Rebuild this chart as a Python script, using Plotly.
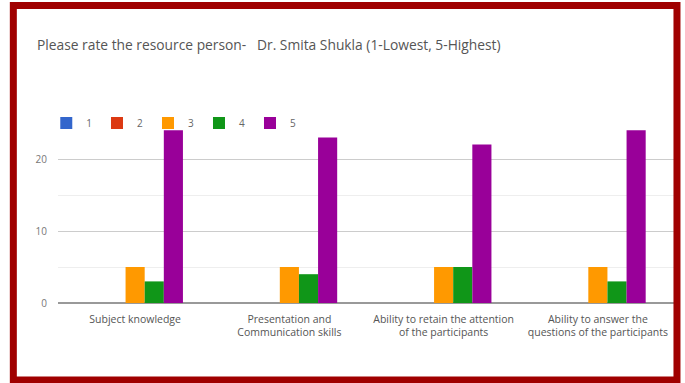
import plotly.graph_objects as go

# data
categories = [
    "Subject knowledge",
    "Presentation and<br>Communication skills",
    "Ability to retain the attention<br>of the participants",
    "Ability to answer the<br>questions of the participants",
]
ratings = ["1", "2", "3", "4", "5"]
counts_1 = [0, 0, 0, 0]
counts_2 = [0, 0, 0, 0]
counts_3 = [5, 5, 5, 5]
counts_4 = [3, 4, 5, 3]
counts_5 = [24, 23, 22, 24]
colors = ["#3366cc", "#dc3912", "#ff9900", "#109618", "#990099"]
title_text = "Please rate the resource person-\u00a0\u00a0\u00a0Dr. Smita Shukla (1-Lowest, 5-Highest)"

fig = go.Figure()
for name, vals, col in zip(ratings, [counts_1, counts_2, counts_3, counts_4, counts_5], colors):
    fig.add_trace(go.Bar(x=categories, y=vals, name=name, marker_color=col,
                         marker_line_width=0))

fig.update_layout(
    width=685, height=383,
    margin=dict(l=58, r=10, t=123, b=80),
    paper_bgcolor="white", plot_bgcolor="white",
    barmode="group", bargap=0.38, bargroupgap=0,
    hovermode=False,
    font=dict(family="Open Sans, Arial, sans-serif", color="#444"),
    title=dict(text=title_text, x=0.054, xref="container", xanchor="left",
               y=0.883, yref="container", yanchor="middle",
               font=dict(size=13.8, color="#555")),
    legend=dict(orientation="h", x=-0.019, xanchor="left", y=1, yanchor="middle",
                font=dict(size=10, color="#666"), itemwidth=30,
                bgcolor="rgba(0,0,0,0)", traceorder="normal"),
    showlegend=True,
)

fig.update_xaxes(showgrid=False, ticks="", tickfont=dict(size=10.5, color="#555"),
                 showline=False, ticklabelstandoff=8)
fig.update_yaxes(range=[0, 25], tickvals=[0, 10, 20], showgrid=True,
                 gridcolor="#cccccc", gridwidth=1,
                 zeroline=True, zerolinecolor="#999999", zerolinewidth=1.5,
                 tickfont=dict(size=10, color="#777"), ticks="",
                 ticklabelstandoff=10,
                 minor=dict(tickvals=[5, 15, 25], showgrid=True,
                            gridcolor="#eeeeee"))

# dark red frame around the picture
fig.add_shape(type="rect", xref="paper", yref="paper",
              x0=-0.0724, x1=1.0032, y0=-0.428, y1=1.653,
              line=dict(color="#a00000", width=7), layer="above")

# page has no body margin so the figure sits at the window corner
fig.write_html("out.html", config={"displayModeBar": False},
               post_script="document.body.style.margin='0';")
